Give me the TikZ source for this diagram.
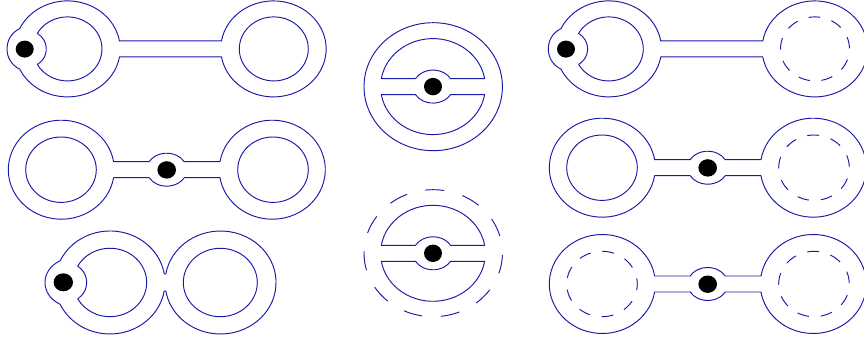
\documentclass[tikz,border=0pt]{standalone}
\definecolor{wireblue}{RGB}{25,25,170}
\begin{document}
\begin{tikzpicture}[x=1pt, y=-1pt]
\tikzset{
  wire/.style={draw=wireblue, line width=0.95pt, line join=round},
  ghost/.style={wire, dash pattern=on #1pt off #1pt},
  dot/.style={fill=black},
  pics/leftbar/.style={code={
    \draw[wire] (119.5,-8) -- (221.5,-8) arc[start angle=-170.4, end angle=170.4, x radius=52.7, y radius=48] -- (119.5,8) arc[start angle=9.6, end angle=155, x radius=52.7, y radius=48] .. controls (11,16) and (7,8) .. (7,0) .. controls (7,-8) and (11,-16) .. (19.7,-20.3) arc[start angle=205, end angle=350.4, x radius=52.7, y radius=48] -- cycle;
    \draw[wire] (37.3,-15.5) arc[start angle=-151, end angle=151, x radius=34.5, y radius=32] arc[start angle=60.3, end angle=-60.3, radius=17.85] -- cycle;
    \fill[dot] (24.7,0.2) ellipse [x radius=9, y radius=8.5];
  }},
  pics/midbar/.style={code={
    \draw[wire] (113.6,-8) -- (149.2,-8) arc[start angle=-151, end angle=-29, x radius=20, y radius=16.5] -- (220,-8) arc[start angle=-170.7, end angle=170.7, x radius=53, y radius=49.5] -- (184.2,8) arc[start angle=29, end angle=151, x radius=20, y radius=16.5] -- (113.6,8) arc[start angle=9.3, end angle=350.7, x radius=53, y radius=49.5] -- cycle;
    \fill[dot] (166.7,0.2) ellipse [x radius=9.3, y radius=8.7];
  }},
  pics/wheel/.style={code={
    \draw[wire] (-51.7,-8) arc[start angle=-170.4, end angle=-9.6, x radius=52.4, y radius=48] -- (17.5,-8) arc[start angle=-29, end angle=-151, x radius=20, y radius=16.5] -- cycle;
    \draw[wire] (-51.7,8) arc[start angle=170.4, end angle=9.6, x radius=52.4, y radius=48] -- (17.5,8) arc[start angle=29, end angle=151, x radius=20, y radius=16.5] -- cycle;
    \fill[dot] (0,0) ellipse [x radius=9, y radius=8.7];
  }}
}
\useasboundingbox (0,0) rectangle (864,337);

\pic at (0,48.9) {leftbar};
\draw[wire] (273.8,48.9) ellipse [x radius=34.5, y radius=32];

\pic at (0,169.7) {midbar};
\draw[wire] (61,169.7) ellipse [x radius=35.3, y radius=32.7];
\draw[wire] (273,169.7) ellipse [x radius=35.3, y radius=32.7];

\draw[wire] (165.8,274) arc[start angle=-170.5, end angle=170.5, x radius=55.5, y radius=51.5] -- (164.2,291) arc[start angle=9.5, end angle=155, x radius=55, y radius=51.5] .. controls (50,299.5) and (45,291) .. (45,282.5) .. controls (45,274) and (50,265.5) .. (60.2,260.7) arc[start angle=205, end angle=350.5, x radius=55, y radius=51.5] -- cycle;
\draw[wire] (77.7,266.2) arc[start angle=-151.6, end angle=151.6, x radius=36.7, y radius=34.2] arc[start angle=57.8, end angle=-57.8, radius=19.26] -- cycle;
\draw[wire] (220.3,282.5) ellipse [x radius=37, y radius=34.2];
\fill[dot] (63.3,282.3) ellipse [x radius=9.7, y radius=9];

\pic at (433,86.6) {wheel};
\draw[wire] (433.2,86.7) ellipse [x radius=69.2, y radius=64];

\pic at (433,253.3) {wheel};
\draw[ghost=18.97] (433.2,253.2) ++(-96.6:69.2 and 63.5) arc[start angle=-96.6, delta angle=360, x radius=69.2, y radius=63.5];

\pic at (541.3,48.9) {leftbar};
\draw[ghost=11.6] (815,48.9) ++(-100.5:34.5 and 32) arc[start angle=-100.5, delta angle=360, x radius=34.5, y radius=32];

\pic at (541,167.7) {midbar};
\draw[wire] (602,167.7) ellipse [x radius=35.3, y radius=32.7];
\draw[ghost=11.87] (814,167.7) ++(-101:35.3 and 32.7) arc[start angle=-101, delta angle=360, x radius=35.3, y radius=32.7];

\pic at (541,284) {midbar};
\draw[ghost=11.87] (602,284) ++(-89.5:35.3 and 32.7) arc[start angle=-89.5, delta angle=360, x radius=35.3, y radius=32.7];
\draw[ghost=11.87] (814,284) ++(-101:35.3 and 32.7) arc[start angle=-101, delta angle=360, x radius=35.3, y radius=32.7];
\end{tikzpicture}
\end{document}
